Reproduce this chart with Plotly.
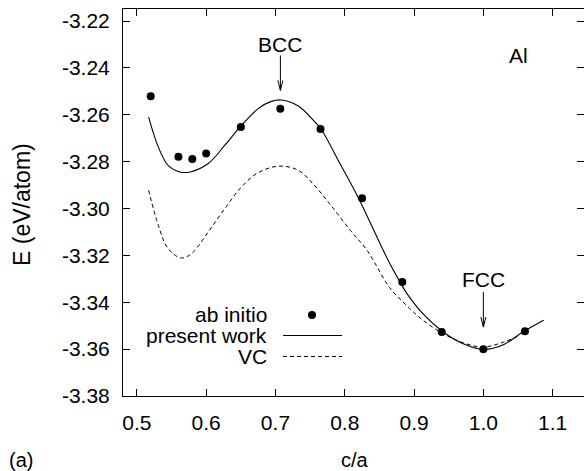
import plotly.graph_objects as go

# ---------------- data ----------------
ca_abinitio = [0.52, 0.56, 0.58, 0.60, 0.65, 0.707, 0.765, 0.825, 0.883, 0.94, 1.00, 1.06]
e_abinitio = [-3.2521, -3.2779, -3.2789, -3.2765, -3.2652, -3.2574, -3.2661, -3.2956,
              -3.3314, -3.3527, -3.3601, -3.3524]

ca_present = [0.517, 0.531, 0.545, 0.562, 0.577, 0.603, 0.627, 0.649, 0.675, 0.694, 0.709,
              0.733, 0.757, 0.766, 0.793, 0.819, 0.851, 0.865, 0.880, 0.889, 0.913, 0.942,
              0.971, 1.000, 1.029, 1.057, 1.087]
e_present = [-3.2610, -3.2738, -3.2816, -3.2844, -3.2844, -3.2808, -3.2730, -3.2652, -3.2574,
             -3.2543, -3.2537, -3.2563, -3.2631, -3.2662, -3.2808, -3.2951, -3.3150, -3.3235,
             -3.3315, -3.3360, -3.3450, -3.3527, -3.3577, -3.3601, -3.3581, -3.3527, -3.3477]

ca_vc = [0.517, 0.531, 0.545, 0.564, 0.579, 0.603, 0.627, 0.651, 0.675, 0.706, 0.733, 0.754,
         0.778, 0.808, 0.832, 0.865, 0.889, 0.913, 0.942, 0.971, 1.000, 1.029, 1.053]
e_vc = [-3.2922, -3.3072, -3.3171, -3.3211, -3.3192, -3.3100, -3.3000, -3.2908, -3.2847,
        -3.2819, -3.2837, -3.2894, -3.2979, -3.3093, -3.3178, -3.3338, -3.3413, -3.3477,
        -3.3534, -3.3573, -3.3591, -3.3570, -3.3541]

x_tickvals = [0.5, 0.6, 0.7, 0.8, 0.9, 1.0, 1.1]
x_ticktext = ["0.5", "0.6", "0.7", "0.8", "0.9", "1.0", "1.1"]
y_tickvals = [-3.22, -3.24, -3.26, -3.28, -3.30, -3.32, -3.34, -3.36, -3.38]
y_ticktext = ["-3.22", "-3.24", "-3.26", "-3.28", "-3.30", "-3.32", "-3.34", "-3.36", "-3.38"]

legend_labels = ["ab initio", "present work", "VC"]
x_title = "c/a"
y_title = "E (eV/atom)"
panel_label = "(a)"
element_label = "Al"
phase_labels = ["BCC", "FCC"]
phase_ca = [0.7071, 1.0]
phase_tip_e = [-3.2496, -3.3506]
phase_text_e = [-3.2302, -3.3302]

# ---------------- layout geometry ----------------
W, H = 584, 471
ML, MR, MT, MB = 123, 0, 9, 75
PW, PH = W - ML - MR, H - MT - MB
FONT = "Liberation Sans, Arial, Helvetica, sans-serif"
FS = 21


def pxx(px):
    return (px - ML) / PW


def pxy(py):
    return (H - MB - py) / PH


def txt(size=FS):
    return dict(family=FONT, size=size, color="black")


fig = go.Figure()
fig.add_trace(go.Scatter(x=ca_present, y=e_present, mode="lines", line_shape="spline",
                         line=dict(color="black", width=1.1), showlegend=False))
fig.add_trace(go.Scatter(x=ca_vc, y=e_vc, mode="lines", line_shape="spline",
                         line=dict(color="black", width=1, dash="4px,3px"), showlegend=False))
fig.add_trace(go.Scatter(x=ca_abinitio, y=e_abinitio, mode="markers",
                         marker=dict(color="black", size=8), showlegend=False))
# invisible trace that carries the right-hand (mirrored) tick axis
fig.add_trace(go.Scatter(x=ca_abinitio[:1], y=e_abinitio[:1], yaxis="y2", mode="markers",
                         marker=dict(opacity=0), showlegend=False, hoverinfo="skip"))

shapes = []
annotations = []

# phase arrows (BCC / FCC)
for lab, xc, yt, ytx in zip(phase_labels, phase_ca, phase_tip_e, phase_text_e):
    shapes.append(dict(type="path", xref="x", yref="y", xsizemode="pixel", ysizemode="pixel",
                       xanchor=xc, yanchor=yt,
                       path="M0,0 L0,35 M-2.5,10 L0,0 L2.5,10",
                       line=dict(color="black", width=1)))
    annotations.append(dict(x=xc, y=ytx, xref="x", yref="y", text=lab, showarrow=False,
                            xanchor="center", yanchor="middle", font=txt()))

annotations.append(dict(x=1.0512, y=-3.2348, xref="x", yref="y", text=element_label,
                        showarrow=False, xanchor="center", yanchor="middle", font=txt()))

# manual legend (text left of sample, gnuplot style)
leg_y = [314.5, 335.5, 356.5]
for lab, yy in zip(legend_labels, leg_y):
    annotations.append(dict(x=pxx(269), y=pxy(yy), xref="paper", yref="paper", text=lab,
                            showarrow=False, xanchor="right", yanchor="middle", font=txt(21)))
shapes.append(dict(type="circle", xref="paper", yref="paper", xsizemode="pixel",
                   ysizemode="pixel", xanchor=pxx(312), yanchor=pxy(315),
                   x0=-4, x1=4, y0=-4, y1=4, fillcolor="black", line=dict(width=0)))
shapes.append(dict(type="line", xref="paper", yref="paper", x0=pxx(283), x1=pxx(342),
                   y0=pxy(335.5), y1=pxy(335.5), line=dict(color="black", width=1.1)))
shapes.append(dict(type="line", xref="paper", yref="paper", x0=pxx(283), x1=pxx(342),
                   y0=pxy(356.5), y1=pxy(356.5), line=dict(color="black", width=1, dash="4px,3px")))

# axis titles and panel label
annotations.append(dict(x=pxx(355), y=pxy(459.5), xref="paper", yref="paper", text=x_title,
                        showarrow=False, xanchor="center", yanchor="middle", font=txt(20)))
annotations.append(dict(x=pxx(22), y=pxy(205), xref="paper", yref="paper", text=y_title,
                        showarrow=False, xanchor="center", yanchor="middle", textangle=-90,
                        font=txt(23)))
annotations.append(dict(x=pxx(7), y=pxy(459.5), xref="paper", yref="paper", text=panel_label,
                        showarrow=False, xanchor="left", yanchor="middle", font=txt(20)))

y_range = [-3.38, -3.38 + PH / 2343.75]
fig.update_layout(
    width=W, height=H,
    margin=dict(l=ML, r=MR, t=MT, b=MB, pad=0),
    paper_bgcolor="white", plot_bgcolor="white",
    shapes=shapes, annotations=annotations,
    font=txt(),
    xaxis=dict(range=[0.48, 0.48 + PW / 693.0], tickvals=x_tickvals, ticktext=x_ticktext,
               ticks="inside", ticklen=7, tickcolor="black", showgrid=False, zeroline=False,
               showline=True, linecolor="black", linewidth=1, mirror="ticks",
               ticklabelstandoff=8, tickfont=txt()),
    yaxis=dict(range=y_range, tickvals=y_tickvals, ticktext=y_ticktext,
               ticks="inside", ticklen=7, tickcolor="black", showgrid=False, zeroline=False,
               showline=True, linecolor="black", linewidth=1, mirror=False,
               ticklabelstandoff=8, tickfont=txt()),
    yaxis2=dict(range=y_range, overlaying="y", side="right", tickvals=y_tickvals,
                ticks="inside", ticklen=7, tickcolor="black", showticklabels=False,
                showgrid=False, zeroline=False, showline=False),
)

fig.write_html("out.html", config={"displayModeBar": False},
               post_script="document.body.style.margin='0';document.body.style.overflow='hidden';")
